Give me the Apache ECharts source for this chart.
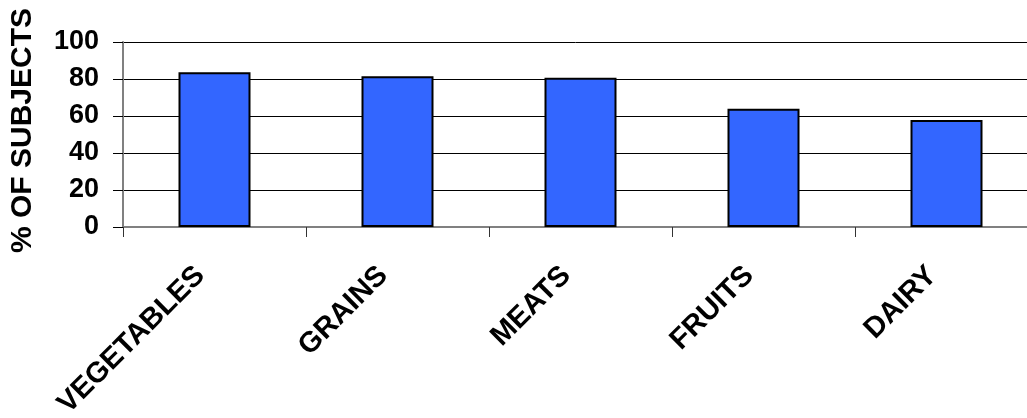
<!DOCTYPE html>
<html>
<head>
<meta charset="utf-8">
<script src="https://cdn.jsdelivr.net/npm/echarts@6/dist/echarts.min.js"></script>
<style>
  html, body { margin: 0; padding: 0; background: #fff; }
  #chart { width: 1027px; height: 418px; }
</style>
</head>
<body>
<div id="chart"></div>
<script>
// food groups and % of subjects
const categories = ['VEGETABLES', 'GRAINS', 'MEATS', 'FRUITS', 'DAIRY'];
const percentSubjects = [83.6, 81.5, 80.7, 63.9, 57.8];
const yTicks = [0, 20, 40, 60, 80, 100];

const chart = echarts.init(document.getElementById('chart'));
const font = '"Liberation Sans", Arial, sans-serif';

const option = {
  animation: false,
  grid: {
    left: 123,
    width: 915,   // runs a bit past the right edge, like the original
    top: 42,
    height: 185,
    outerBoundsMode: 'none'
  },
  xAxis: {
    type: 'category',
    data: categories,
    axisLine: { lineStyle: { color: '#808080', width: 2 } },
    axisTick: { show: true, length: 10, lineStyle: { color: '#333', width: 1 } },
    axisLabel: {
      rotate: 45,
      margin: 30,
      padding: [0, 20, 0, 0],
      color: '#000',
      fontFamily: font,
      fontWeight: 'bold',
      fontSize: 29
    },
    splitLine: { show: false }
  },
  yAxis: {
    type: 'value',
    min: yTicks[0],
    max: yTicks[yTicks.length - 1],
    interval: 20,
    name: '% OF SUBJECTS',
    nameLocation: 'middle',
    nameGap: 85,
    nameRotate: 90,
    nameTextStyle: {
      color: '#000',
      fontFamily: font,
      fontWeight: 'bold',
      fontSize: 30,
      padding: [0, 0, 0, 8]
    },
    axisLine: { show: true, onZero: false, lineStyle: { color: '#808080', width: 2 } },
    axisTick: { show: true, length: 10, lineStyle: { color: '#000', width: 1 } },
    axisLabel: {
      margin: 24,
      color: '#000',
      fontFamily: font,
      fontWeight: 'bold',
      fontSize: 27
    },
    splitLine: { show: true, lineStyle: { color: '#000', width: 1 } }
  },
  series: [
    {
      type: 'bar',
      data: percentSubjects,
      barWidth: 72,
      itemStyle: {
        color: '#3366FF',
        borderColor: '#000',
        borderWidth: 2
      }
    }
  ]
};

chart.setOption(option);
</script>
</body>
</html>
